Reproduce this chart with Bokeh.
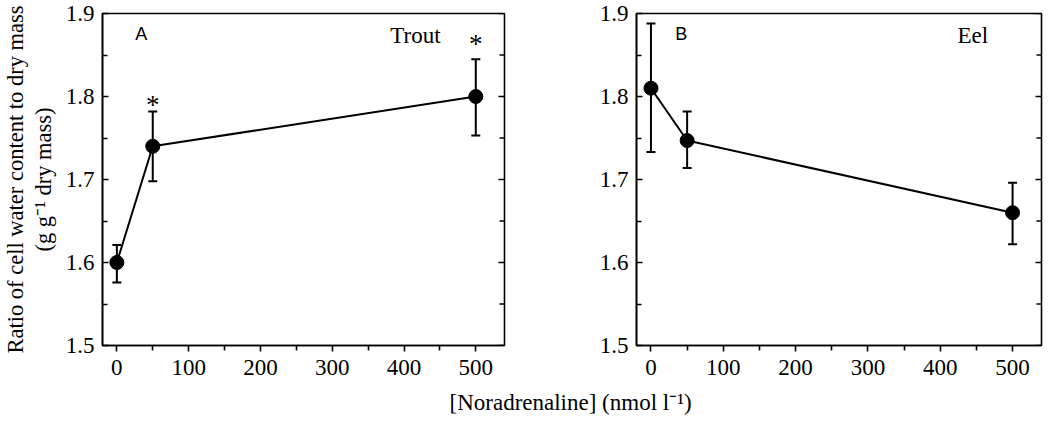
from math import pi
from bokeh.plotting import figure
from bokeh.models import FixedTicker, Range1d, ColumnDataSource, Whisker, TeeHead, Label
from bokeh.layouts import column, row
from bokeh.embed import file_html
from bokeh.resources import INLINE
from bokeh.core.properties import value

# ---- data ----
conc = [0, 50, 500]
trout_mean = [1.600, 1.740, 1.800]
trout_upper = [1.621, 1.782, 1.845]
trout_lower = [1.576, 1.698, 1.753]
eel_mean = [1.810, 1.747, 1.660]
eel_upper = [1.888, 1.782, 1.696]
eel_lower = [1.733, 1.714, 1.622]
trout_sig_x = [50, 500]
trout_sig_y = [1.797, 1.871]
x_ticks = [0, 100, 200, 300, 400, 500]
x_minor = [50, 150, 250, 350, 450]
y_ticks = [1.5, 1.6, 1.7, 1.8, 1.9]
y_minor = [1.55, 1.65, 1.75, 1.85]
X_MIN, X_MAX = -20, 540
Y_MIN, Y_MAX = 1.5, 1.9

SERIF = "Liberation Serif"
SANS = "Liberation Sans"
LW = 1.6
FS = "23px"


def panel(mean, upper, lower, letter, letter_x, name, name_x, width, border_left,
          border_right, ylabel=None):
    p = figure(width=width, height=389, output_backend="svg", toolbar_location=None,
               x_range=Range1d(X_MIN, X_MAX), y_range=Range1d(Y_MIN, Y_MAX),
               min_border_left=border_left, min_border_right=border_right,
               min_border_top=13, min_border_bottom=44, tools="")
    p.grid.visible = False
    p.outline_line_color = "black"
    p.outline_line_width = LW
    p.background_fill_color = "white"
    p.border_fill_color = "white"

    xa = p.xaxis[0]
    xa.ticker = FixedTicker(ticks=x_ticks, minor_ticks=x_minor)
    xa.major_tick_in = 0
    xa.major_tick_out = 6
    xa.minor_tick_in = 0
    xa.minor_tick_out = 5
    xa.major_tick_line_width = LW
    xa.minor_tick_line_width = LW
    xa.axis_line_width = LW
    xa.major_label_standoff = 8
    xa.major_label_text_font = SERIF
    xa.major_label_text_font_size = FS
    xa.major_label_text_color = "black"

    ya = p.yaxis[0]
    ya.ticker = FixedTicker(ticks=y_ticks, minor_ticks=y_minor)
    ya.major_tick_in = 6
    ya.major_tick_out = 0
    ya.minor_tick_in = 5
    ya.minor_tick_out = 0
    ya.major_tick_line_width = LW
    ya.minor_tick_line_width = LW
    ya.axis_line_width = LW
    ya.major_label_standoff = 8
    ya.major_label_text_font = SERIF
    ya.major_label_text_font_size = FS
    ya.major_label_text_color = "black"
    if ylabel:
        ya.axis_label = ylabel
        ya.axis_label_text_font = SERIF
        ya.axis_label_text_font_size = "22.5px"
        ya.axis_label_text_font_style = "normal"
        ya.axis_label_text_color = "black"
        ya.axis_label_text_line_height = 1.1
        ya.axis_label_standoff = 7

    # mirrored inward ticks on the right edge
    p.ray(x=[X_MAX] * len(y_ticks), y=y_ticks, length=6, angle=pi,
          length_units="screen", line_color="black", line_width=LW)
    p.ray(x=[X_MAX] * len(y_minor), y=y_minor, length=5, angle=pi,
          length_units="screen", line_color="black", line_width=LW)

    src = ColumnDataSource(dict(x=conc, y=mean, upper=upper, lower=lower))
    w = Whisker(source=src, base="x", upper="upper", lower="lower",
                line_color="black", line_width=2,
                upper_head=TeeHead(size=9, line_width=2, line_color="black"),
                lower_head=TeeHead(size=9, line_width=2, line_color="black"))
    p.add_layout(w)
    p.line("x", "y", source=src, line_color="black", line_width=2)
    p.scatter("x", "y", source=src, size=14, marker="circle",
              fill_color="black", line_color="black")

    p.add_layout(Label(x=letter_x, y=1.875, text=letter, text_font=SANS,
                       text_font_size="18px", text_align="center",
                       text_baseline="middle", text_color="black"))
    p.add_layout(Label(x=name_x, y=1.873, text=name, text_font=SERIF,
                       text_font_size=FS, text_align="center",
                       text_baseline="middle", text_color="black"))
    return p


p1 = panel(trout_mean, trout_upper, trout_lower, "A", 34, "Trout", 416, 520, 98, 16,
           ylabel="Ratio of cell water content to dry mass\n(g g\u207b\u00b9 dry mass)")
p1.text(x=trout_sig_x, y=trout_sig_y, text=["*", "*"], text_font=value(SERIF),
        text_font_size="27px", text_align="center", text_baseline="middle",
        y_offset=6, text_color="black")

p2 = panel(eel_mean, eel_upper, eel_lower, "B", 42, "Eel", 445, 525, 116, 4)

p3 = figure(width=1045, height=28, output_backend="svg", toolbar_location=None,
            x_range=Range1d(0, 1045), y_range=Range1d(0, 28), tools="",
            min_border=0, x_axis_type=None, y_axis_type=None)
p3.grid.visible = False
p3.outline_line_color = None
p3.add_layout(Label(x=449, y=15, text="[Noradrenaline] (nmol l\u207b\u00b9)",
                    text_font=SERIF, text_font_size=FS, text_align="left",
                    text_baseline="middle", text_color="black"))

layout = column(row(p1, p2, spacing=0), p3, spacing=0)
open("out.html", "w").write(file_html(layout, INLINE))
